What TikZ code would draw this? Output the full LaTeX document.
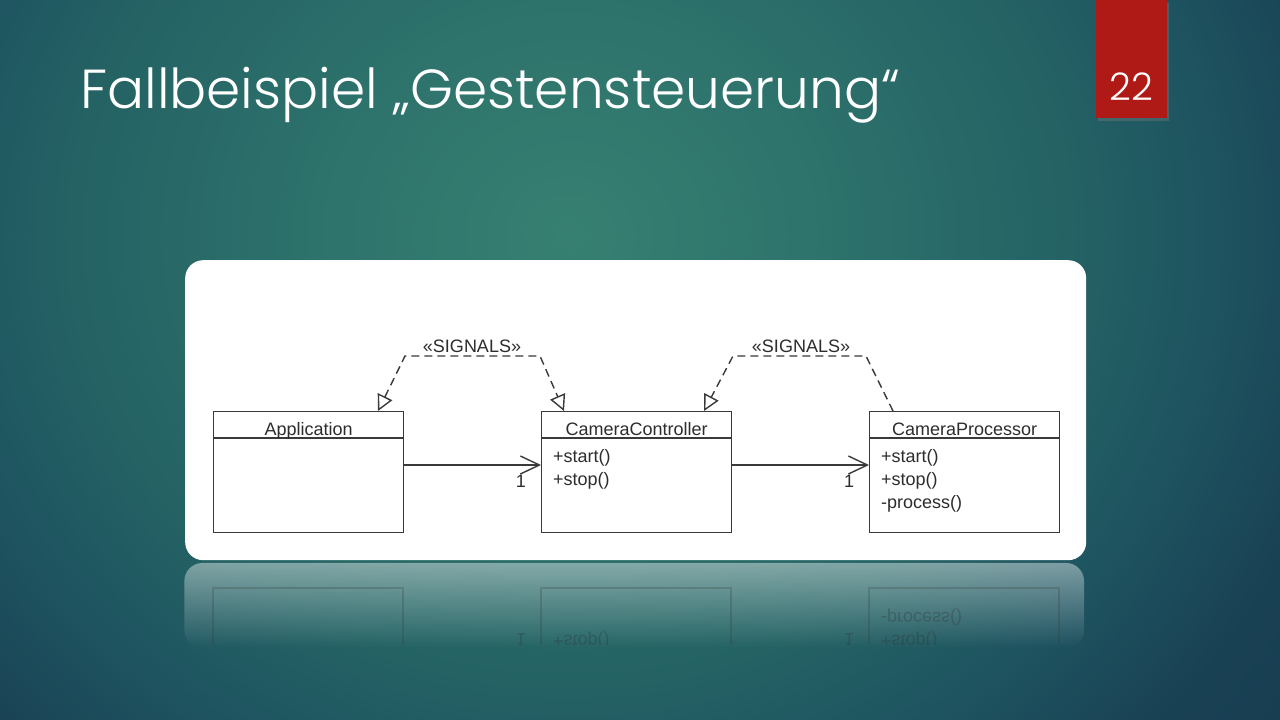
\documentclass[tikz,border=0pt]{standalone}
\usepackage{fontspec}
\setmainfont{Liberation Sans}
\newfontfamily\titlefont{Poppins Light}
\usetikzlibrary{arrows.meta,fadings,shadows,calc}

\definecolor{bgc0}{RGB}{54,128,113}
\definecolor{bgc1}{RGB}{46,115,108}
\definecolor{bgc2}{RGB}{36,98,100}
\definecolor{bgc3}{RGB}{30,84,96}
\definecolor{bgc4}{RGB}{25,65,84}
\definecolor{bgc5}{RGB}{22,58,78}
\definecolor{slidered}{RGB}{176,26,22}
\definecolor{umlline}{RGB}{58,58,58}
\definecolor{umltext}{RGB}{45,45,45}

% the path's bounding box spans +-25bp of this shading
\pgfdeclareradialshading{slidebg}{\pgfpoint{0bp}{0bp}}{%
  color(0bp)=(bgc0); color(6bp)=(bgc1); color(12.5bp)=(bgc2);
  color(16bp)=(bgc3); color(20bp)=(bgc4); color(25bp)=(bgc5); color(50bp)=(bgc5)}

\tikzfading[name=reflfade, top color=transparent!58, middle color=transparent!75, bottom color=transparent!100]

\newcommand\umlsize{\fontsize{18}{20}\selectfont}

\tikzset{
  sigtip/.tip={Triangle[open,length=16pt,width=16pt]},
  umlclass/.style={draw=umlline, line width=1.4pt, fill=white, minimum width=190pt,
    minimum height=121pt, anchor=north west, inner sep=0pt},
  umllabel/.style={font=\umlsize, text=umltext, inner sep=0pt},
  assoc/.style={draw=umlline, line width=1.4pt, -{Straight Barb[length=19pt,width=18pt]}},
  signal/.style={draw=umlline, line width=1.4pt, dash pattern=on 8pt off 5pt},
  mirror/.style={draw=umlline, line width=1.4pt, opacity=0.25},
  mirrortext/.style={font=\umlsize, text=umltext, inner sep=0pt, opacity=0.3, yscale=-1}
}

\begin{document}
\begin{tikzpicture}[x=1pt,y=-1pt]
\useasboundingbox (0,0) rectangle (1280,720);

% slide background
\begin{scope}
  \clip (0,0) rectangle (1280,720);
  \fill[bgc5] (0,0) rectangle (1280,720);
  \shade[shading=slidebg] (570,235) ellipse [x radius=1000, y radius=900];
\end{scope}

% title and slide number
\node[anchor=base west, text=white, font=\titlefont\fontsize{55}{60}\selectfont, inner sep=0pt]
  (title) at (80,108) {Fallbeispiel „Gestensteuerung“};
\node[fill=slidered, minimum width=71pt, minimum height=118pt, anchor=north west, inner sep=0pt,
  drop shadow={shadow xshift=2pt, shadow yshift=-3pt, opacity=0.35}] (numbox) at (1096,0) {};
\node[anchor=base, text=white, font=\titlefont\fontsize{38}{40}\selectfont, inner sep=0pt]
  (num) at (1131,100) {22};

% white panel
\node[fill=white, rounded corners=18pt, minimum width=901pt, minimum height=300pt,
  anchor=north west, inner sep=0pt] (panel) at (185,260) {};

% reflection of the panel
\fill[white, path fading=reflfade, rounded corners=18pt] (185,563) rectangle (1086,648);
\begin{scope}
  \clip (185,563) rectangle (1086,644);
  \draw[mirror] (213,588) rectangle (403,700);
  \draw[mirror] (541,588) rectangle (731,700);
  \draw[mirror] (869,588) rectangle (1059,700);
  \node[mirrortext, anchor=base west] (mproc) at (881,612) {-process()};
  \node[mirrortext, anchor=base west] (mstopb) at (881,635) {+stop()};
  \node[mirrortext, anchor=base west] (mstopa) at (553,635) {+stop()};
  \node[mirrortext, anchor=base] (mone1) at (521,633) {1};
  \node[mirrortext, anchor=base] (mone2) at (849,633) {1};
\end{scope}

% classes
\node[umlclass] (app) at (213,411) {};
\node[umlclass] (ctrl) at (541,411) {};
\node[umlclass] (proc) at (869,411) {};
\foreach \c in {app,ctrl,proc}
  \draw[draw=umlline, line width=1.4pt] ($(\c.north west)+(0,27)$) -- ($(\c.north east)+(0,27)$);

\node[umllabel, anchor=base] (appname) at ($(app.north)+(0,24)$) {Application};
\node[umllabel, anchor=base] (ctrlname) at ($(ctrl.north)+(0,24)$) {CameraController};
\node[umllabel, anchor=base] (procname) at ($(proc.north)+(0,24)$) {CameraProcessor};

\node[umllabel, anchor=base west] (cstart) at ($(ctrl.north west)+(12,51)$) {+start()};
\node[umllabel, anchor=base west] (cstop) at ($(ctrl.north west)+(12,74)$) {+stop()};
\node[umllabel, anchor=base west] (pstart) at ($(proc.north west)+(12,51)$) {+start()};
\node[umllabel, anchor=base west] (pstop) at ($(proc.north west)+(12,74)$) {+stop()};
\node[umllabel, anchor=base west] (pproc) at ($(proc.north west)+(12,97)$) {-process()};

% associations
\draw[assoc] ($(app.north east)+(0,54)$) -- ($(ctrl.north west)+(0,54)$);
\draw[assoc] ($(ctrl.north east)+(0,54)$) -- ($(proc.north west)+(0,54)$);
\node[umllabel, anchor=base] (one1) at ($(ctrl.north west)+(-20,76)$) {1};
\node[umllabel, anchor=base] (one2) at ($(proc.north west)+(-20,76)$) {1};

% signal dependencies
\coordinate (s1a) at (405,356);
\coordinate (s1b) at (540,356);
\coordinate (s2a) at (733,356);
\coordinate (s2b) at (866,356);
\draw[signal, sigtip-sigtip] ($(app.north west)+(165,0)$) -- (s1a) -- (s1b) -- ($(ctrl.north west)+(23,0)$);
\draw[signal, -sigtip] ($(proc.north west)+(24,0)$) -- (s2b) -- (s2a) -- ($(ctrl.north west)+(163,0)$);
\node[umllabel, anchor=base] (sig1) at (472,352) {«SIGNALS»};
\node[umllabel, anchor=base] (sig2) at (801,352) {«SIGNALS»};
\end{tikzpicture}
\end{document}
